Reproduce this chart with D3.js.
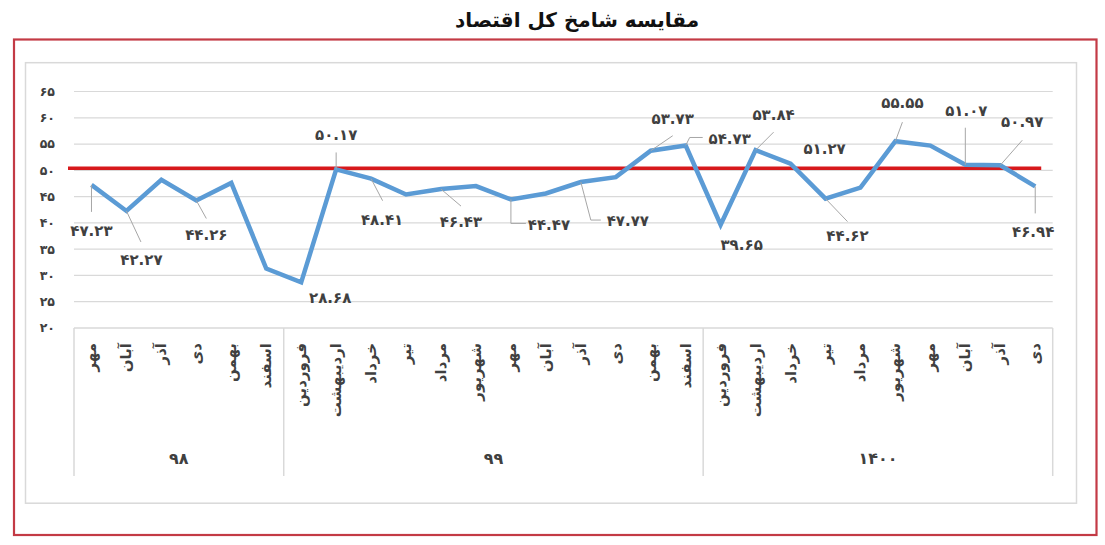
<!DOCTYPE html>
<html>
<head>
<meta charset="utf-8">
<script src="https://cdn.jsdelivr.net/npm/d3@7/dist/d3.min.js"></script>
<style>
  html, body { margin: 0; padding: 0; background: #fff; }
  svg { display: block; font-family: "DejaVu Sans", sans-serif; }
</style>
</head>
<body>
<svg id="chart" width="1105" height="545"></svg>
<script>
// ---------- data ----------
const title = "مقایسه شامخ کل اقتصاد";
const years = ["۹۸", "۹۹", "۱۴۰۰"];
const months98 = ["مهر", "آبان", "آذر", "دی", "بهمن", "اسفند"];
const months99 = ["فروردین", "اردیبهشت", "خرداد", "تیر", "مرداد", "شهریور", "مهر", "آبان", "آذر", "دی", "بهمن", "اسفند"];
const months1400 = ["فروردین", "اردیبهشت", "خرداد", "تیر", "مرداد", "شهریور", "مهر", "آبان", "آذر", "دی"];
const values98 = [47.23, 42.27, 48.2, 44.26, 47.6, 31.3];
const values99 = [28.68, 50.17, 48.41, 45.4, 46.43, 47.0, 44.47, 45.6, 47.77, 48.7, 53.73, 54.73];
const values1400 = [39.65, 53.84, 51.27, 44.62, 46.7, 55.55, 54.7, 51.07, 50.97, 46.94];
const labeled98 = [true, true, false, true, false, false];
const labeled99 = [true, true, true, false, true, false, true, false, true, false, true, true];
const labeled1400 = [true, true, true, true, false, true, false, true, true, true];
const yTicks = [20, 25, 30, 35, 40, 45, 50, 55, 60, 65];
const threshold = 50.4;

// ---------- label layout (text offset, leader path) ----------
const labelLayout = {
  0:  { t: [0, 46],   l: [[0, 27]] },
  1:  { t: [15, 49],  l: [[14.5, 31]] },
  3:  { t: [10, 34],  l: [[10, 18]] },
  6:  { t: [29, 15],  l: null },
  7:  { t: [0, -35],  l: [[0, -17]] },
  8:  { t: [11, 41],  l: [[11.5, 22]] },
  10: { t: [20, 33],  l: [[20, 17]] },
  12: { t: [38, 25],  l: [[0, 24], [15, 24]] },
  14: { t: [47, 39],  l: [[10, 38], [20, 38]] },
  16: { t: [22, -32], l: [[22, -15]] },
  17: { t: [44, -7],  l: [[4, -8], [17, -8]] },
  18: { t: [21, 20],  l: null },
  19: { t: [18, -35], l: [[18, -18]] },
  20: { t: [34, -15], l: null },
  21: { t: [22, 37],  l: [[22, 23]] },
  23: { t: [7, -38],  l: [[7, -19]] },
  25: { t: [1, -54],  l: [[0, -37]] },
  26: { t: [22, -43], l: [[22, -25]] },
  27: { t: [-2, 45],  l: [[0, 27]] }
};

// ---------- build ----------
const groups = [
  { year: years[0], months: months98, values: values98, labeled: labeled98 },
  { year: years[1], months: months99, values: values99, labeled: labeled99 },
  { year: years[2], months: months1400, values: values1400, labeled: labeled1400 }
];
const points = [];
groups.forEach((g, gi) => g.months.forEach((m, i) => points.push({
  idx: points.length, group: gi, month: m, value: g.values[i], labeled: g.labeled[i]
})));

const fa = s => String(s).replace(/\d/g, d => "۰۱۲۳۴۵۶۷۸۹"[+d]);

const svg = d3.select("#chart");
const plotL = 74, plotR = 1052.7, plotT = 91.5, plotB = 328;
const x = d3.scaleBand().domain(points.map(p => p.idx)).range([plotL, plotR]).padding(0);
const cx = i => x(i) + x.bandwidth() / 2;
const y = d3.scaleLinear().domain([20, 65]).range([plotB, plotT]);

// outer red frame
svg.append("rect").attr("x", 14).attr("y", 39.5).attr("width", 1082.5).attr("height", 495.5)
  .attr("fill", "none").attr("stroke", "#c33a45").attr("stroke-width", 2.2);
// chart area border
svg.append("rect").attr("x", 25.5).attr("y", 62.7).attr("width", 1051).attr("height", 440.5)
  .attr("fill", "none").attr("stroke", "#d9d9d9").attr("stroke-width", 1.5);

// title
svg.append("text").attr("x", 577).attr("y", 27).attr("text-anchor", "middle")
  .attr("font-size", 20).attr("font-weight", "bold").attr("fill", "#111").text(title);

// gridlines
svg.append("g").selectAll("line").data(yTicks).join("line")
  .attr("x1", plotL).attr("x2", plotR)
  .attr("y1", d => y(d)).attr("y2", d => y(d))
  .attr("stroke", "#d9d9d9").attr("stroke-width", d => d === 20 ? 1.5 : 1.2);

// y tick labels
svg.append("g").selectAll("text").data(yTicks).join("text")
  .attr("x", 55).attr("y", d => y(d)).attr("dy", "0.35em").attr("text-anchor", "end")
  .attr("font-size", 12.5).attr("font-weight", "bold").attr("fill", "#404040")
  .text(d => fa(d));

// category group dividers
let start = 0;
const divs = [0];
groups.forEach(g => { start += g.months.length; divs.push(start); });
const divX = i => i < points.length ? x(i) : plotR;
svg.append("g").selectAll("line").data(divs).join("line")
  .attr("x1", d => divX(d)).attr("x2", d => divX(d))
  .attr("y1", plotB).attr("y2", 476)
  .attr("stroke", "#d9d9d9").attr("stroke-width", 1.5);

// month labels
svg.append("g").selectAll("text").data(points).join("text")
  .attr("transform", d => `translate(${cx(d.idx)},343) rotate(-90)`)
  .attr("text-anchor", "end").attr("dominant-baseline", "central")
  .attr("font-size", 15).attr("font-weight", "bold").attr("fill", "#404040")
  .text(d => d.month);

// year labels
svg.append("g").selectAll("text").data(groups).join("text")
  .attr("x", (g, i) => (divX(divs[i]) + divX(divs[i + 1])) / 2)
  .attr("y", 464).attr("text-anchor", "middle")
  .attr("font-size", 16).attr("font-weight", "bold").attr("fill", "#404040")
  .text(g => g.year);

// threshold line
svg.append("line")
  .attr("x1", plotL - 6).attr("x2", cx(points.length - 1) + 6)
  .attr("y1", y(threshold)).attr("y2", y(threshold))
  .attr("stroke", "#d7191c").attr("stroke-width", 3.5);

// series line
const line = d3.line().x(d => cx(d.idx)).y(d => y(d.value));
svg.append("path").datum(points).attr("d", line)
  .attr("fill", "none").attr("stroke", "#5b9bd5").attr("stroke-width", 4.5)
  .attr("stroke-linejoin", "miter").attr("stroke-linecap", "butt");

// leaders & labels
const lab = points.filter(p => p.labeled && labelLayout[p.idx]);
svg.append("g").selectAll("path").data(lab.filter(p => labelLayout[p.idx].l)).join("path")
  .attr("d", p => {
    const px = cx(p.idx), py = y(p.value);
    return "M" + px + "," + py + labelLayout[p.idx].l.map(o => "L" + (px + o[0]) + "," + (py + o[1])).join("");
  })
  .attr("fill", "none").attr("stroke", "#a6a6a6").attr("stroke-width", 1);

svg.append("g").selectAll("text").data(lab).join("text")
  .attr("x", p => cx(p.idx) + labelLayout[p.idx].t[0])
  .attr("y", p => y(p.value) + labelLayout[p.idx].t[1])
  .attr("dy", "0.35em").attr("text-anchor", "middle")
  .attr("font-size", 15).attr("font-weight", "bold").attr("fill", "#404040")
  .text(p => fa(p.value.toFixed(2)));
</script>
</body>
</html>
